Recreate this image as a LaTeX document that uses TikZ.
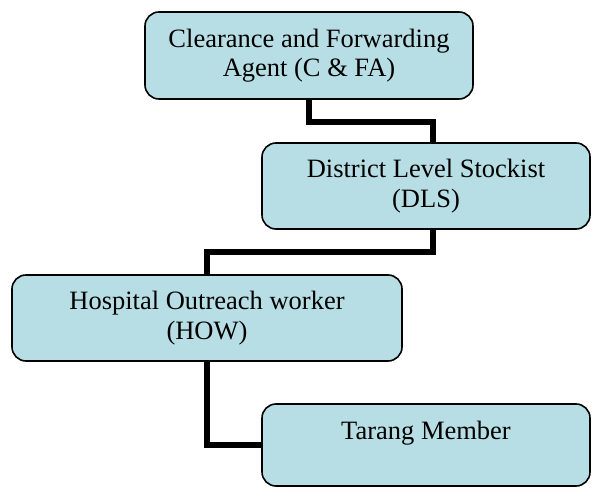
\documentclass[tikz,border=0pt]{standalone}
\usepackage{fontspec}
\setmainfont{Liberation Serif}
\usetikzlibrary{backgrounds}
\definecolor{boxfill}{RGB}{183,222,228}
\tikzset{
  orgbox/.style={draw=black, line width=1.6pt, fill=boxfill, rounded corners=14pt,
    align=center, inner sep=0pt, font=\fontsize{26.5}{29.5}\selectfont},
  conn/.style={draw=black, line width=6.5pt, line join=miter}
}
\begin{document}
\begin{tikzpicture}[x=1pt,y=1pt]
\useasboundingbox (0,0) rectangle (593,487);
\node[orgbox, minimum width=328pt, minimum height=87pt] (b1) at (309,431.5)
  {Clearance and Forwarding\\Agent (C \& FA)};
\node[orgbox, minimum width=328pt, minimum height=86pt] (b2) at (426,301)
  {District Level Stockist\\(DLS)};
\node[orgbox, minimum width=390pt, minimum height=86pt] (b3) at (207,169)
  {Hospital Outreach worker\\(HOW)};
\node[orgbox, minimum width=328pt, minimum height=82pt] (b4) at (426,42)
  {Tarang Member\\\mbox{}};
\coordinate (j1) at (433,365);
\coordinate (j2) at (433,235);
\coordinate (j3) at (207,235);
\begin{scope}[on background layer]
\draw[conn] (b1.south) |- (j1) -- (j1 |- b2.north);
\draw[conn] (j2 |- b2.south) -- (j2) -- (j3) -- (b3.north);
\draw[conn] (b3.south) |- (b4.west);
\end{scope}
\end{tikzpicture}
\end{document}
